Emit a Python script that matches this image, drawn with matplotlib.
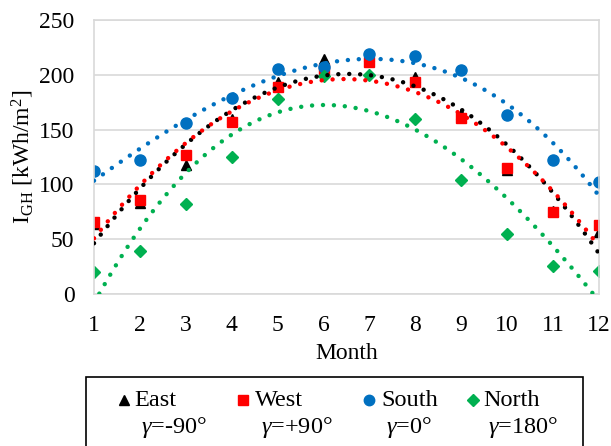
import matplotlib
matplotlib.use('Agg')
import matplotlib.pyplot as plt
import numpy as np
from matplotlib.lines import Line2D
from matplotlib.patches import Rectangle

plt.rcParams['font.family'] = ['Liberation Serif', 'DejaVu Serif']
plt.rcParams['mathtext.fontset'] = 'custom'
plt.rcParams['mathtext.rm'] = 'Liberation Serif'
plt.rcParams['mathtext.it'] = 'Liberation Serif:italic'
plt.rcParams['font.size'] = 17

months = np.arange(1, 13)
east = [64, 83, 118, 160, 193, 214, 217, 198, 164, 113, 76, 57]
west = [66, 86, 127, 157, 189, 205, 212, 193, 161, 115, 75, 63]
south = [112, 122, 156, 179, 205, 207, 219, 217, 204, 163, 122, 102]
north = [20, 39, 82, 125, 178, 199, 200, 160, 104, 55, 26, 21]

names = ['East', 'West', 'South', 'North']
gammas = ['$\\gamma$=-90°', '$\\gamma$=+90°', '$\\gamma$=0°', '$\\gamma$=180°']
series = [east, west, south, north]
colors = ['black', '#ff0000', '#0070c0', '#00b050']
markers = ['^', 's', 'o', 'D']
msizes = [7.2, 7.6, 8, 6.5]

W, H = 611, 446
fig = plt.figure(figsize=(W / 100, H / 100), dpi=100)
ax = fig.add_axes([94 / W, 1 - 294 / H, (599 - 94) / W, (294 - 20) / H])

for vals, c, m, ms in zip(series, colors, markers, msizes):
    ax.plot(months, vals, linestyle='none', marker=m, ms=ms, color=c, zorder=2)

# polynomial trendlines (order 3), like Excel, drawn over the markers
xs = np.linspace(1, 12, 300)
for vals, c in zip(series, colors):
    p = np.polyfit(months, vals, 3)
    ax.plot(xs, np.polyval(p, xs), color=c, lw=3.2, linestyle=(0, (0.01, 2.45)),
            dash_capstyle='round', zorder=3)

ax.set_xlim(1, 12)
ax.set_ylim(0, 250)
ax.set_xticks(months)
ax.set_yticks(np.arange(0, 251, 50))
ax.grid(axis='y', color='#d9d9d9', lw=1.2)
ax.set_axisbelow(True)
for s in ax.spines.values():
    s.set_color('#d9d9d9')
    s.set_linewidth(1.2)
ax.tick_params(length=0, labelsize=17)
ax.tick_params(axis='x', pad=15)
ax.tick_params(axis='y', pad=14)
ax.set_xlabel('Month', fontsize=17, labelpad=5)
ax.set_ylabel('I$_{\\mathrm{GH}}$ [kWh/m$^{2}$]', fontsize=17, labelpad=2)

# legend drawn by hand so the marker sits on the first line
def fx(px):
    return px / W

def fy(py):
    return 1 - py / H

fig.add_artist(Rectangle((fx(86), fy(470)), fx(583) - fx(86), fy(377) - fy(470),
                         transform=fig.transFigure, fill=False, edgecolor='black',
                         lw=1.2, clip_on=False))
mark_x = [124, 243, 369, 473]
name_x = [134, 255, 381, 483]
gam_x = [141, 261, 386, 488]
for i in range(4):
    fig.add_artist(Line2D([fx(mark_x[i])], [fy(400)], marker=markers[i], ms=msizes[i] - 0.5,
                          color=colors[i], linestyle='none', transform=fig.transFigure))
    fig.text(fx(name_x[i]), fy(401), names[i], fontsize=17.5, va='center', ha='left')
    fig.text(fx(gam_x[i]), fy(427), gammas[i], fontsize=17.5, va='center', ha='left')

fig.savefig('out.png', dpi=100)
